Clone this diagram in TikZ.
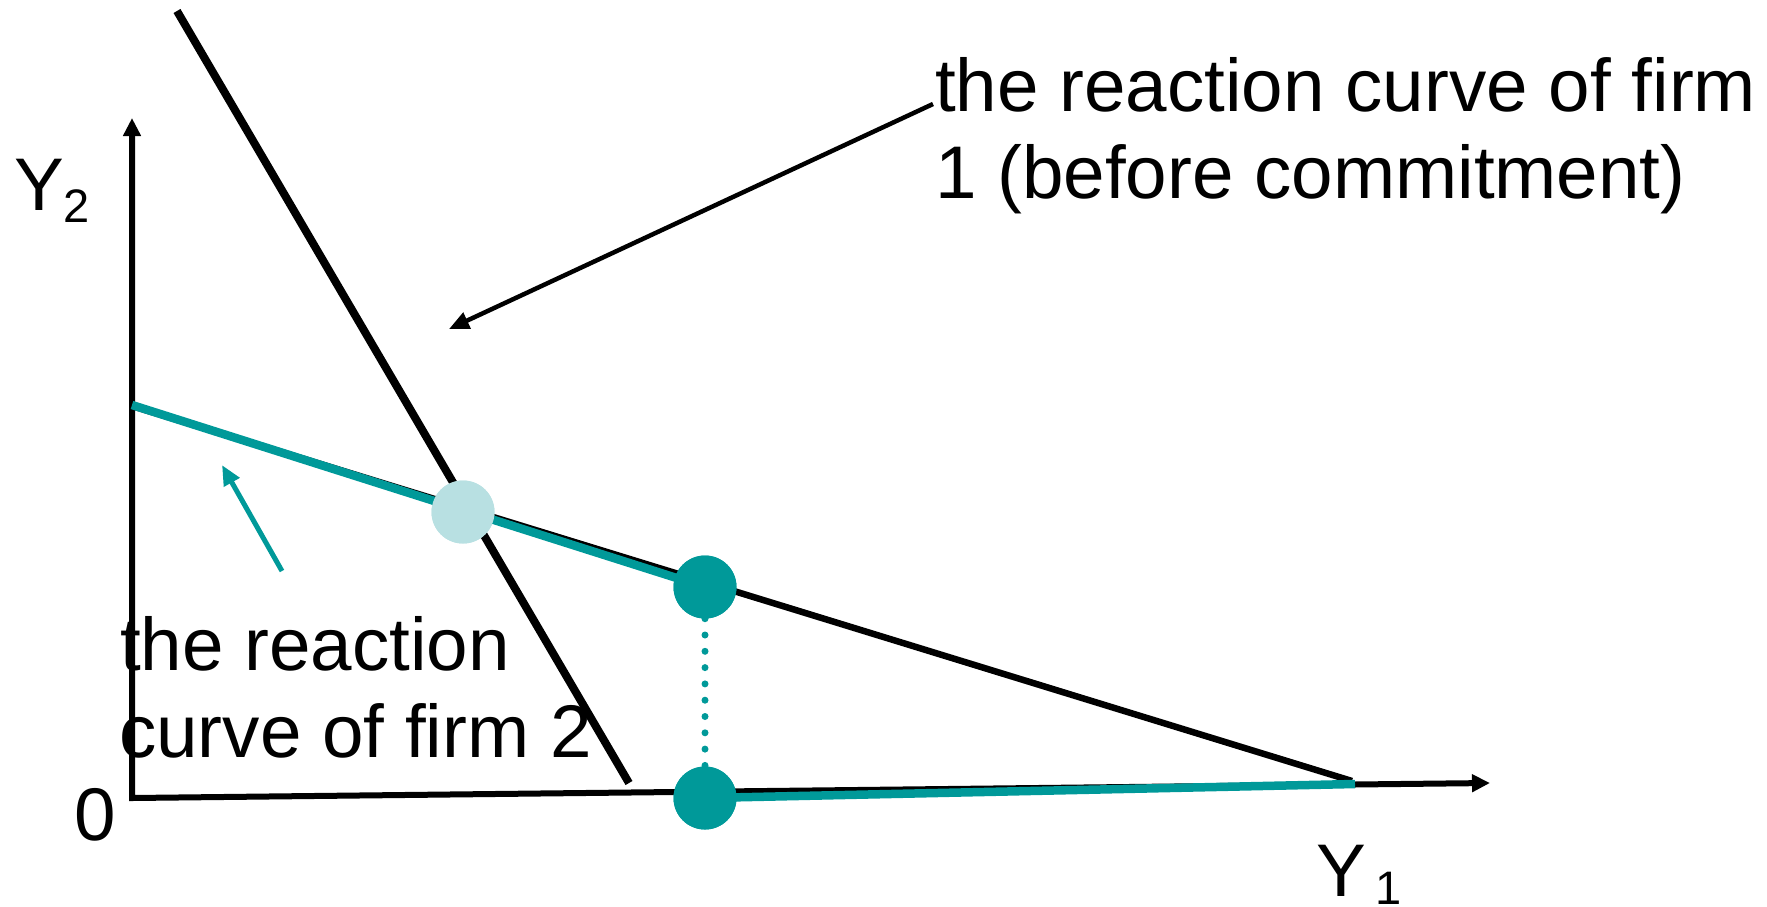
\documentclass[tikz,border=0pt]{standalone}
\usepackage{fontspec}
\setmainfont{Liberation Sans}
\usetikzlibrary{arrows.meta}
\definecolor{teal1}{RGB}{0,153,153}
\definecolor{lightteal}{RGB}{184,224,226}
\begin{document}
\begin{tikzpicture}[x=1pt,y=-1pt,
  axisline/.style={line width=6pt,black},
  blackline/.style={line width=8pt,black},
  tealline/.style={line width=8.5pt,teal1},
  dotline/.style={line width=7pt,teal1,line cap=round,dash pattern=on 0pt off 16.3pt},
  dot/.style={circle,inner sep=0pt,minimum size=63pt},
  lbl/.style={font=\fontsize{74.6}{86}\selectfont,inner sep=0pt,anchor=base west},
  sub/.style={font=\fontsize{47}{54}\selectfont,inner sep=0pt,anchor=base west},
  pointer/.style={line width=4.5pt,-{Triangle[length=20pt,width=17pt]}}
]
\useasboundingbox (0,0) rectangle (1767,906);
% axes
\coordinate (O) at (132,798);
\coordinate (ytop) at (132,118);
\coordinate (xend) at (1490,783);
\draw[axisline,{Triangle[length=18pt,width=17pt]}-{Triangle[length=18pt,width=17pt]}] (ytop) -- (O) -- (xend);
% reaction curves
\coordinate (s1) at (177,11);
\coordinate (s2) at (629,783);
\draw[blackline] (s1) -- (s2);
\coordinate (r1) at (132,406);
\coordinate (r2) at (1352,781);
\draw[blackline,line width=6.5pt] (r1) -- (r2);
\coordinate (t1) at (132,405);
\coordinate (b2) at (1355,784);
% dots
\node[dot,fill=lightteal] (E0) at (463,512) {};
\node[dot,fill=teal1] (E1) at (705,587) {};
\node[dot,fill=teal1] (E2) at (705,798) {};
\draw[tealline] (t1) -- (E1.center);
\draw[tealline] (E2.center) -- (b2);
\draw[dotline] (E1.south) -- (E2.north);
\node[dot,fill=lightteal] at (E0) {};
\node[dot,fill=teal1] at (E1) {};
\node[dot,fill=teal1] at (E2) {};
% labels
\node[lbl] (y2) at (14,210) {Y};
\node[sub] (y2s) at (63,222) {2};
\node[lbl] (y1) at (1316,896) {Y};
\node[sub] (y1s) at (1375,904) {1};
\node[lbl] (zero) at (74,840) {0};
\node[lbl] (fa) at (935,111) {the reaction curve of firm};
\node[lbl] (fb) at (935,198) {1 (before commitment)};
\node[lbl] (ga) at (120,670) {the reaction};
\node[lbl] (gb) at (119,757) {curve of firm 2};
% pointers
\coordinate (p1s) at (933,104);
\coordinate (p1e) at (449,329);
\draw[pointer] (p1s) -- (p1e);
\coordinate (p2s) at (282,571);
\coordinate (p2e) at (222,465);
\draw[pointer,teal1,line width=5pt] (p2s) -- (p2e);
\end{tikzpicture}
\end{document}
